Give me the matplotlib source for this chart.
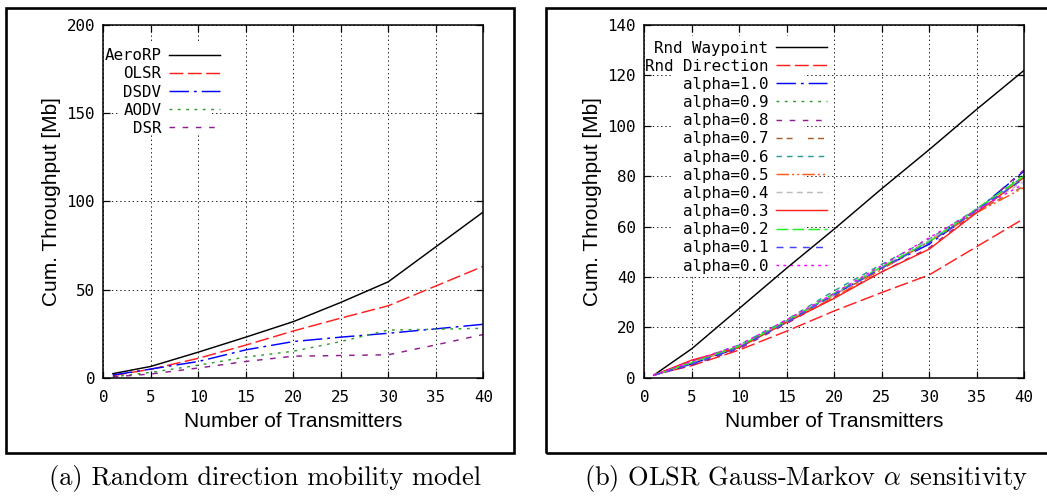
import matplotlib
matplotlib.use("Agg")
import matplotlib.pyplot as plt
from matplotlib.patches import Rectangle

plt.rcParams['mathtext.fontset'] = 'cm'
plt.rcParams['lines.scale_dashes'] = False

# number of transmitters used in every run
transmitters = [1, 5, 10, 15, 20, 25, 30, 35, 40]

# (a) random direction mobility, cumulative throughput [Mb]
aerorp = [2.3, 6.4, 14.5, 23.0, 31.8, 42.7, 54.4, 74.2, 94.0]
olsr = [1.2, 4.8, 11.0, 18.5, 26.5, 33.8, 40.8, 52.0, 63.2]
dsdv = [1.5, 4.9, 9.2, 15.8, 20.5, 23.0, 25.2, 27.7, 30.3]
aodv = [0.5, 3.0, 7.1, 11.7, 15.0, 20.5, 27.0, 27.5, 28.0]
dsr = [0.5, 2.1, 5.5, 9.2, 12.2, 12.6, 13.0, 18.6, 24.5]
protocols = ['AeroRP', 'OLSR', 'DSDV', 'AODV', 'DSR']

# (b) OLSR under different mobility models / Gauss-Markov alpha
rnd_waypoint = [1.0, 11.5, 27.5, 43.5, 59.0, 75.0, 90.5, 106.5, 122.0]
rnd_direction = olsr
alpha_10 = [1.0, 5.5, 12.0, 22.5, 33.0, 43.5, 53.0, 66.5, 82.0]
alpha_09 = [1.0, 6.0, 12.5, 22.0, 33.5, 44.0, 54.0, 66.0, 81.0]
alpha_08 = [1.0, 5.0, 11.5, 21.5, 32.0, 42.0, 51.5, 66.0, 82.5]
alpha_07 = [1.0, 6.5, 12.5, 22.5, 32.5, 43.5, 54.5, 66.0, 76.0]
alpha_06 = [1.0, 6.5, 13.0, 23.0, 34.5, 45.0, 55.0, 67.0, 80.0]
alpha_05 = [1.0, 6.0, 12.0, 22.0, 32.0, 43.0, 54.0, 65.5, 75.5]
alpha_04 = [1.0, 6.0, 12.5, 22.5, 33.0, 44.0, 54.5, 66.5, 78.0]
alpha_03 = [1.0, 7.0, 12.0, 22.0, 31.5, 42.0, 51.0, 65.5, 79.5]
alpha_02 = [1.0, 6.0, 12.5, 22.5, 33.5, 44.0, 54.0, 67.0, 80.0]
alpha_01 = [1.0, 5.5, 12.0, 22.0, 33.0, 43.5, 53.5, 66.5, 79.0]
alpha_00 = [1.0, 6.5, 13.0, 23.0, 33.5, 44.5, 55.5, 66.5, 77.0]
mobility_labels = ['Rnd Waypoint', 'Rnd Direction',
                   'alpha=1.0', 'alpha=0.9', 'alpha=0.8', 'alpha=0.7',
                   'alpha=0.6', 'alpha=0.5', 'alpha=0.4', 'alpha=0.3',
                   'alpha=0.2', 'alpha=0.1', 'alpha=0.0']

# gnuplot-like line types: (colour, dash pattern in points)
styles = [
    ('black', None),
    ('#ff1f1f', (10, 3.2)),
    ('#0000ff', (14, 3.6, 2, 3.6)),
    ('#2f9f2f', (2, 4)),
    ('#8f1f8f', (4, 5.5)),
    ('#a8622a', (4.3, 3, 4.3, 11)),
    ('#2a9a9a', (4, 3.6)),
    ('#ff5a1f', (9, 2.2, 1.5, 2.2, 1.5, 2.2)),
    ('#bbbbbb', (4.3, 3)),
    ('#ff2020', None),
    ('#22ee22', (8.5, 3)),
    ('#4444ff', (5, 4.5)),
    ('#ff00ff', (2, 3)),
]

mono = {'family': 'DejaVu Sans Mono', 'size': 11.4}
sans = {'family': 'Liberation Sans', 'size': 15}


def draw_lines(ax, series, labels):
    for values, label, (color, dashes) in zip(series, labels, styles):
        line, = ax.plot(transmitters, values, color=color, lw=1.05, label=label)
        if dashes is not None:
            line.set_dashes(dashes)


def style_axes(ax, ymax, ystep):
    ax.set_xlim(0, 40)
    ax.set_ylim(0, ymax)
    ax.set_xticks(range(0, 41, 5))
    ax.set_yticks(range(0, ymax + 1, ystep))
    ax.tick_params(which='both', direction='in', top=True, right=True,
                   length=5, width=0.9, color='black')
    ax.tick_params(axis='x', pad=8.5)
    ax.tick_params(axis='y', pad=6)
    for lab in ax.get_xticklabels() + ax.get_yticklabels():
        lab.set_fontfamily(mono['family'])
        lab.set_fontsize(mono['size'])
    for sp in ax.spines.values():
        sp.set_linewidth(1.1)
    ax.grid(True, color='black', linestyle=(0, (1, 2)), lw=0.6)
    ax.set_axisbelow(True)
    ax.set_xlabel('Number of Transmitters', fontdict=sans)
    ax.set_ylabel('Cum. Throughput [Mb]', fontdict=sans)
    ax.xaxis.set_label_coords(0.5, -0.097)
    ax.yaxis.set_label_coords(-0.112, 0.5)


def add_key(ax, anchor, box):
    # opaque key area under the samples, above the grid
    ax.add_patch(Rectangle(box[:2], box[2], box[3], transform=ax.transAxes,
                           facecolor='white', edgecolor='none', zorder=1.5))
    leg = ax.legend(loc='upper right', bbox_to_anchor=anchor, markerfirst=False,
                    frameon=False, prop=mono, handlelength=3.2,
                    handletextpad=0.5, labelspacing=0.2, borderpad=0,
                    borderaxespad=0)
    leg.set_zorder(1.6)


fig = plt.figure(figsize=(10.47, 4.96), dpi=100)
ax1 = fig.add_axes([0.0987, 0.2385, 0.3629, 0.7111])
ax2 = fig.add_axes([0.6154, 0.2385, 0.3627, 0.7111])

draw_lines(ax1, [aerorp, olsr, dsdv, aodv, dsr], protocols)
style_axes(ax1, 200, 50)
add_key(ax1, (0.307, 0.934), (0.04, 0.694, 0.245, 0.255))

mobility = [rnd_waypoint, rnd_direction, alpha_10, alpha_09, alpha_08,
            alpha_07, alpha_06, alpha_05, alpha_04, alpha_03, alpha_02,
            alpha_01, alpha_00]
draw_lines(ax2, mobility, mobility_labels)
style_axes(ax2, 140, 20)
add_key(ax2, (0.481, 0.956), (0.076, 0.286, 0.345, 0.682))

# frames around the two panels
fig.add_artist(Rectangle((0.0057, 0.0867), 0.4852, 0.8972, transform=fig.transFigure,
                         fill=False, edgecolor='black', lw=1.9))
fig.add_artist(Rectangle((0.5215, 0.0867), 0.52, 0.8972, transform=fig.transFigure,
                         fill=False, edgecolor='black', lw=1.9))

cap = {'family': 'cmr10', 'size': 19}
fig.text(0.253, 0.036, '(a) Random direction mobility model', fontdict=cap,
         ha='center', va='center')
fig.text(0.770, 0.036, r'(b) OLSR Gauss-Markov $\alpha$ sensitivity', fontdict=cap,
         ha='center', va='center')

fig.savefig('out.png', dpi=100)
